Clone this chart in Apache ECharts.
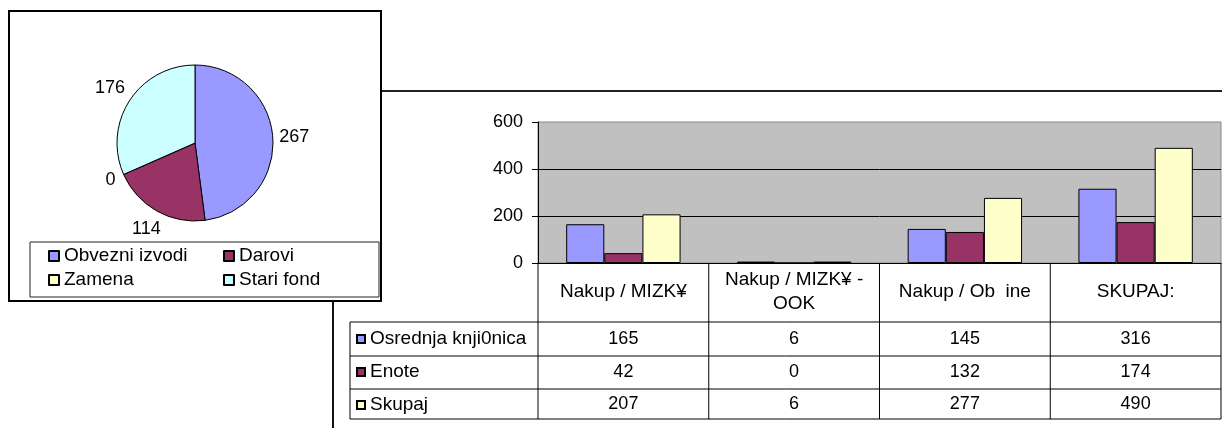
<!DOCTYPE html>
<html>
<head>
<meta charset="utf-8">
<script src="https://cdn.jsdelivr.net/npm/echarts@6/dist/echarts.min.js"></script>
<style>
  html, body { margin: 0; padding: 0; background: #fff; }
  #chart { width: 1222px; height: 428px; }
</style>
</head>
<body>
<div id="chart"></div>
<script>
// tortni graf
var pieNames = ['Obvezni izvodi', 'Darovi', 'Zamena', 'Stari fond'];
var pieValues = [267, 114, 0, 176];
var pieColors = ['#9999FF', '#993366', '#FFFFCC', '#CCFFFF'];

// stolpci + tabela
var categories = ['Nakup / MIZK¥', 'Nakup / MIZK¥ -\nOOK', 'Nakup / Ob  ine', 'SKUPAJ:'];
var seriesNames = ['Osrednja knji0nica', 'Enote', 'Skupaj'];
var osrednja = [165, 6, 145, 316];
var enote = [42, 0, 132, 174];
var skupaj = [207, 6, 277, 490];
var barColors = ['#9999FF', '#993366', '#FFFFCC'];
var yMin = 0, yMax = 600, yStep = 200;

var font = "'Liberation Sans', Arial, sans-serif";
var gridBox = { left: 538, top: 122, width: 683, height: 141 };
var pieCenter = [195, 143], pieR = 78;
// tabela pod grafom
var tableLeft = 350;
var rowLines = [322, 356, 389, 419];

var chart = echarts.init(document.getElementById('chart'));

var legendText = { color: '#000', fontSize: 19, fontFamily: font, lineHeight: 20 };

function barSeries(name, data, color) {
  return {
    name: name,
    type: 'bar',
    data: data,
    barGap: '0%',
    barCategoryGap: '33%',
    itemStyle: { color: color, borderColor: '#000', borderWidth: 1 },
    emphasis: { disabled: true }
  };
}

// oznake torte: sredina oznake malo izven kroga, v smeri sredine izseka
var pieTotal = pieValues.reduce(function (a, b) { return a + b; }, 0);
function pieLabelLayout(params) {
  var before = 0;
  for (var i = 0; i < params.dataIndex; i++) before += pieValues[i];
  var mid = (before + pieValues[params.dataIndex] / 2) / pieTotal * Math.PI * 2;
  var dx = Math.sin(mid), dy = -Math.cos(mid);
  var hw = params.labelRect.width / 2, hh = params.labelRect.height / 2;
  var dist = pieR + 6 + hw * Math.abs(dx) + hh * Math.abs(dy);
  return {
    x: pieCenter[0] + dx * dist,
    y: pieCenter[1] + dy * dist,
    align: 'center',
    verticalAlign: 'middle'
  };
}

var option = {
  animation: false,
  textStyle: { fontFamily: font },
  grid: {
    left: gridBox.left, top: gridBox.top, width: gridBox.width, height: gridBox.height,
    show: true, backgroundColor: '#C0C0C0', borderColor: '#888', borderWidth: 1
  },
  legend: [
    {
      data: [pieNames[0], pieNames[2]], orient: 'vertical', left: 48, top: 246, padding: 0,
      itemGap: 4, itemWidth: 10, itemHeight: 10, icon: 'rect', textStyle: legendText, selectedMode: false
    },
    {
      data: [pieNames[1], pieNames[3]], orient: 'vertical', left: 223, top: 246, padding: 0,
      itemGap: 4, itemWidth: 10, itemHeight: 10, icon: 'rect', textStyle: legendText, selectedMode: false
    },
    {
      data: seriesNames, orient: 'vertical', left: 356, top: 329, padding: 0,
      itemGap: 13, itemWidth: 8, itemHeight: 8, icon: 'rect', textStyle: legendText, selectedMode: false
    }
  ],
  xAxis: {
    type: 'category',
    data: categories,
    axisLine: { lineStyle: { color: '#000', width: 1 } },
    axisTick: { show: false },
    axisLabel: { interval: 0, color: '#000', fontSize: 19, margin: 29, verticalAlign: 'middle', lineHeight: 24 }
  },
  yAxis: {
    type: 'value',
    min: yMin, max: yMax, interval: yStep,
    axisLine: { show: true, lineStyle: { color: '#000' } },
    axisTick: { show: true, length: 6, lineStyle: { color: '#000' } },
    axisLabel: { color: '#000', fontSize: 18, margin: 15 },
    splitLine: { show: true, showMaxLine: false, lineStyle: { color: '#000', width: 1 } }
  },
  series: [
    {
      type: 'pie',
      center: pieCenter,
      radius: pieR,
      startAngle: 90,
      avoidLabelOverlap: false,
      data: pieNames.map(function (n, i) {
        return { name: n, value: pieValues[i], itemStyle: { color: pieColors[i] } };
      }),
      itemStyle: { borderColor: '#000', borderWidth: 1 },
      label: { show: true, position: 'outside', formatter: '{c}', color: '#000', fontSize: 18 },
      labelLine: { show: false, length: 6, length2: 0 },
      labelLayout: pieLabelLayout,
      emphasis: { disabled: true }
    },
    barSeries(seriesNames[0], osrednja, barColors[0]),
    barSeries(seriesNames[1], enote, barColors[1]),
    barSeries(seriesNames[2], skupaj, barColors[2])
  ]
};
chart.setOption(option);

// okvirji, crte tabele in vrednosti
var g = [];
function line(x1, y1, x2, y2, w, c, z) {
  g.push({ type: 'line', z: z || 0, shape: { x1: x1, y1: y1, x2: x2, y2: y2 }, style: { stroke: c || '#000', lineWidth: w || 1 } });
}
// okvir grafa (delno pod tortnim okvirjem)
line(333, 91, 1222, 91, 2, '#222', 0);
line(333, 91, 333, 428, 2, '#111', 0);
// okvir tortnega grafa
g.push({ type: 'rect', z: 1, shape: { x: 9, y: 11, width: 372, height: 290 }, style: { fill: '#fff', stroke: '#000', lineWidth: 2 } });
g.push({ type: 'rect', z: 3, shape: { x: 30, y: 242, width: 349, height: 55 }, style: { fill: 'none', stroke: '#222', lineWidth: 1 } });

var right = gridBox.left + gridBox.width;
var axisY = gridBox.top + gridBox.height;
var colW = gridBox.width / categories.length;
rowLines.forEach(function (y) { line(tableLeft, y, right, y, 1, '#000', 3); });
line(tableLeft, rowLines[0], tableLeft, rowLines[rowLines.length - 1], 1, '#000', 3);
for (var k = 0; k <= categories.length; k++) {
  line(gridBox.left + k * colW, axisY, gridBox.left + k * colW, rowLines[rowLines.length - 1], 1, '#000', 3);
}
var tableData = [osrednja, enote, skupaj];
tableData.forEach(function (arr, i) {
  var yc = (rowLines[i] + rowLines[i + 1]) / 2;
  arr.forEach(function (v, j) {
    var xc = chart.convertToPixel({ xAxisIndex: 0 }, j);
    g.push({
      type: 'text', z: 3, x: xc, y: yc,
      style: { text: String(v), fill: '#000', font: '18px ' + font, textAlign: 'center', textVerticalAlign: 'middle' }
    });
  });
});
chart.setOption({ graphic: g });
</script>
</body>
</html>
